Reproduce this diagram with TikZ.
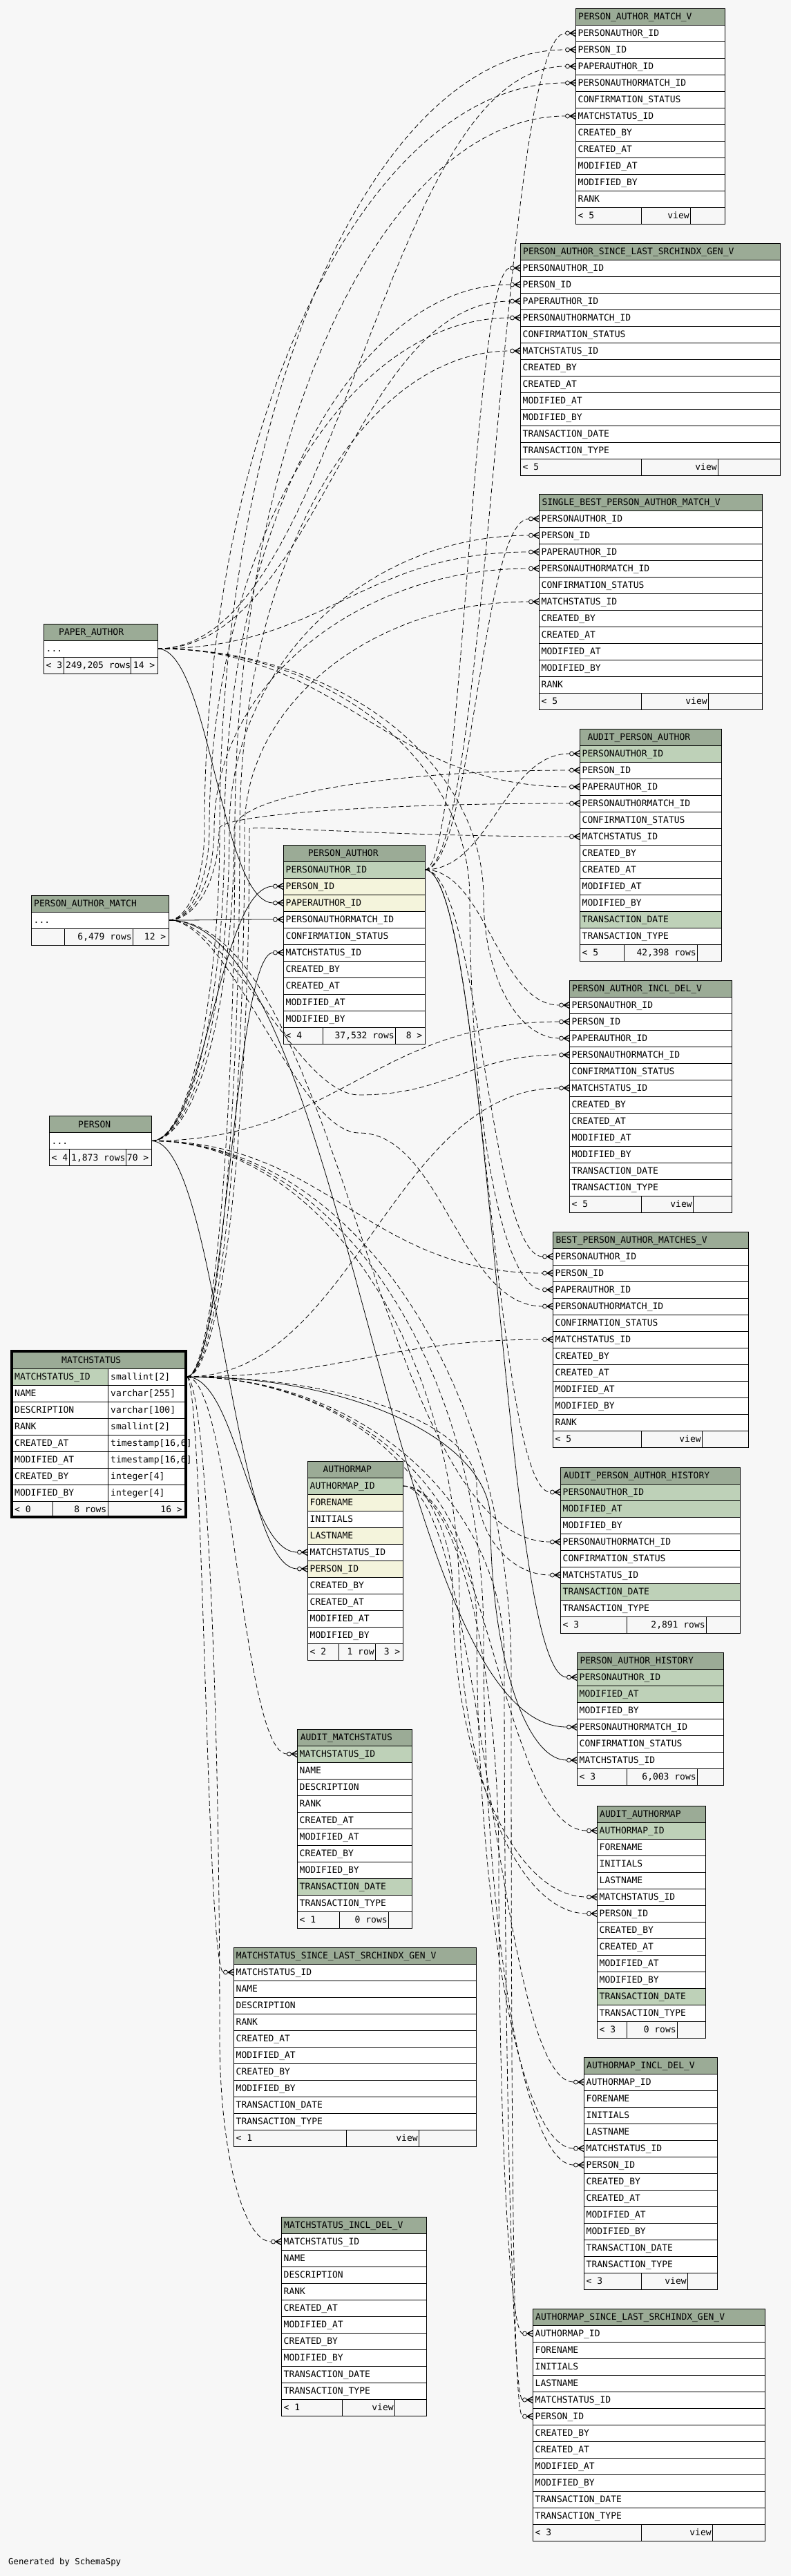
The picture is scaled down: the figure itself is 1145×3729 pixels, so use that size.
\documentclass[tikz,border=0pt]{standalone}
\usepackage{fontspec}
\setmonofont{DejaVu Sans Mono}
\usetikzlibrary{calc}
\definecolor{bgc}{HTML}{F7F7F7}
\definecolor{hdr}{HTML}{9BAB96}
\definecolor{cg}{HTML}{BED1B8}
\definecolor{cy}{HTML}{F4F4DC}
\definecolor{cw}{HTML}{FFFFFF}
\pgfdeclarelayer{back}
\pgfsetlayers{back,main}
\newdimen\fkxa \newdimen\fkxb \newdimen\fkya \newdimen\fkyb
\newcommand\ddd{...}
\newcommand\txtfont{\ttfamily\fontsize{13}{14}\selectfont}
\hbadness=10000 \hfuzz=1000pt
\tikzset{
  txt/.style={font=\txtfont, inner sep=0pt, text=black},
  cell/.style={draw=black, line width=0.9pt},
  edge/.style={draw=black, line width=0.8pt},
  dsh/.style={dash pattern=on 7pt off 4pt},
  crowline/.style={draw=black, line width=1.3pt}
}
\newcommand\tbl[7]{%
  \xdef\Tl{#2}\xdef\Tt{#3}\xdef\Tr{#4}%
  \filldraw[cell, fill=hdr] (#2,#3) rectangle (#4,#3+24);
  \node[txt, anchor=base west] at (#2+#6,#3+16.5) {#5};
  \foreach \rc/\rt [count=\i] in {#7} {
    \filldraw[cell, fill=\rc] (#2,#3+24*\i) rectangle (#4,#3+24*\i+24);
    \node[txt, anchor=base west] at (#2+3.5,#3+24*\i+16.5) {\rt};
    \coordinate (#1-\i) at (#2,#3+24*\i+12);
    \coordinate (#1-\i-r) at (#4,#3+24*\i+12);
    \xdef\nrows{\i}
  }
}
\newcommand\ftr[5]{%
  \pgfmathsetmacro\fy{\Tt+24*(\nrows+1)}%
  \pgfmathsetmacro\fw{#2-#1-4.5}%
  \draw[cell] (\Tl,\fy) rectangle (\Tr,\fy+24);
  \draw[cell] (#1,\fy) -- (#1,\fy+24) (#2,\fy) -- (#2,\fy+24);
  \begin{scope}
    \clip (\Tl,\fy) rectangle (#1,\fy+24);
    \node[txt, anchor=base west] at (\Tl+3.5,\fy+16.5) {#3};
  \end{scope}
  \begin{scope}
    \clip (#1,\fy) rectangle (#2,\fy+24);
    \node[txt, anchor=base west] at (#1+3,\fy+16.5) {\hbox to \fw pt{\hfill #4}};
  \end{scope}
  \node[txt, anchor=base east] at (\Tr-3.5,\fy+16.5) {#5};
}
\newcommand\crow[1]{%
  \draw[crowline] ($(#1)+(-8pt,0pt)$) -- ($(#1)+(0pt,4.5pt)$)
                  ($(#1)+(-8pt,0pt)$) -- ($(#1)+(0pt,-4.5pt)$)
                  ($(#1)+(-8.5pt,0pt)$) -- (#1);
  \draw[edge, fill=bgc] ($(#1)+(-11.5pt,0pt)$) circle (3pt);
}
\newcommand\fkget[2]{%
  \pgfextractx{\fkxa}{\pgfpointanchor{#1}{center}}%
  \pgfextracty{\fkya}{\pgfpointanchor{#1}{center}}%
  \pgfextractx{\fkxb}{\pgfpointanchor{#2}{center}}%
  \pgfextracty{\fkyb}{\pgfpointanchor{#2}{center}}%
  \pgfmathsetmacro\fkPy{\fkya}%
  \pgfmathsetmacro\fkCy{\fkyb}%
  \pgfmathsetmacro\fkCx{\fkxb-14.5}%
}
% direct S-curve
\newcommand\fk[3][]{%
  \fkget{#2}{#3}%
  \pgfmathsetmacro\fkd{max(25,0.45*(\fkCx-\fkxa))}%
  \pgfmathsetmacro\fkaX{\fkxa+\fkd}%
  \pgfmathsetmacro\fkdX{\fkCx-\fkd}%
  \begin{pgfonlayer}{back}
  \draw[edge,#1] (\fkxa,\fkya) .. controls (\fkaX pt,\fkPy pt) and (\fkdX pt,\fkCy pt) .. (\fkCx pt,\fkCy pt);
  \end{pgfonlayer}
  \crow{#3}%
}
% through a waypoint passed vertically
\newcommand\fkv[5][]{%
  \fkget{#2}{#3}%
  \pgfmathsetmacro\fkWx{#4}%
  \pgfmathsetmacro\fkWy{-(#5)}%
  \pgfmathsetmacro\fksd{(\fkCy<\fkPy) ? -1 : 1}%
  \pgfmathsetmacro\fkaX{\fkxa+max(15,0.55*(\fkWx-\fkxa))}%
  \pgfmathsetmacro\fkbY{\fkWy-\fksd*0.55*abs(\fkWy-\fkPy)}%
  \pgfmathsetmacro\fkcY{\fkWy+\fksd*0.55*abs(\fkCy-\fkWy)}%
  \pgfmathsetmacro\fkdX{\fkCx-max(15,0.55*(\fkCx-\fkWx))}%
  \begin{pgfonlayer}{back}
  \draw[edge,#1] (\fkxa,\fkya) .. controls (\fkaX pt,\fkPy pt) and (\fkWx pt,\fkbY pt) .. (\fkWx pt,\fkWy pt) .. controls (\fkWx pt,\fkcY pt) and (\fkdX pt,\fkCy pt) .. (\fkCx pt,\fkCy pt);
  \end{pgfonlayer}
  \crow{#3}%
}
% through a waypoint passed horizontally
\newcommand\fkh[6][]{%
  \fkget{#2}{#3}%
  \pgfmathsetmacro\fkWx{#4}%
  \pgfmathsetmacro\fkWy{-(#5)}%
  \pgfmathsetmacro\fkaX{\fkxa+#6}%
  \pgfmathsetmacro\fkbX{\fkWx-#6}%
  \pgfmathsetmacro\fkd{max(25,0.45*(\fkCx-\fkWx))}%
  \pgfmathsetmacro\fkcX{\fkWx+\fkd}%
  \pgfmathsetmacro\fkdX{\fkCx-\fkd}%
  \begin{pgfonlayer}{back}
  \draw[edge,#1] (\fkxa,\fkya) .. controls (\fkaX pt,\fkPy pt) and (\fkbX pt,\fkWy pt) .. (\fkWx pt,\fkWy pt) .. controls (\fkcX pt,\fkWy pt) and (\fkdX pt,\fkCy pt) .. (\fkCx pt,\fkCy pt);
  \end{pgfonlayer}
  \crow{#3}%
}
\begin{document}
\begin{tikzpicture}[x=1pt,y=-1pt]
\begin{pgfonlayer}{back}
\fill[bgc] (0,0) rectangle (1145,3729);
\end{pgfonlayer}
\useasboundingbox (0,0) rectangle (1145,3729);

% ---------------- parents on the left
\tbl{pa}{63}{903}{228}{PAPER\_AUTHOR}{22}{cw/\ddd}
\ftr{92}{189}{< 3}{249,205 rows}{14 >}
\tbl{pam}{45}{1296}{244}{PERSON\_AUTHOR\_MATCH}{4}{cw/\ddd}
\ftr{93}{192}{}{6,479 rows}{12 >}
\tbl{per}{71}{1615.5}{219}{PERSON}{42}{cw/\ddd}
\ftr{100}{182}{< 4}{1,873 rows}{70 >}

% MATCHSTATUS (selected table, two columns)
\filldraw[cell, fill=hdr] (17,1957) rectangle (269,1981);
\node[txt, anchor=base west] at (89,1973.5) {MATCHSTATUS};
\foreach \rc/\ra/\rb [count=\i] in {cg/MATCHSTATUS\_ID/smallint[2], cw/NAME/varchar[255], cw/DESCRIPTION/varchar[100], cw/RANK/smallint[2], cw/CREATED\_AT/{timestamp[16,6]}, cw/MODIFIED\_AT/{timestamp[16,6]}, cw/CREATED\_BY/integer[4], cw/MODIFIED\_BY/integer[4]} {
  \filldraw[cell, fill=\rc] (17,1957+24*\i) rectangle (156,1981+24*\i);
  \filldraw[cell, fill=cw] (156,1957+24*\i) rectangle (269,1981+24*\i);
  \node[txt, anchor=base west] at (21,1973.5+24*\i) {\ra};
  \node[txt, anchor=base west] at (160,1973.5+24*\i) {\rb};
  \coordinate (ms-\i-r) at (270,1969+24*\i);
}
\draw[cell] (17,2173) rectangle (269,2197);
\draw[cell] (76,2173) -- (76,2197) (156,2173) -- (156,2197);
\node[txt, anchor=base west] at (21,2189.5) {< 0};
\node[txt, anchor=base east] at (154.5,2189.5) {8 rows};
\node[txt, anchor=base east] at (264,2189.5) {16 >};
\draw[line width=3.5pt] (17,1955.5) rectangle (269,2196);

% ---------------- middle column
\tbl{pau}{410}{1223}{615}{PERSON\_AUTHOR}{35.7}{cg/PERSONAUTHOR\_ID, cy/PERSON\_ID, cy/PAPERAUTHOR\_ID, cw/PERSONAUTHORMATCH\_ID, cw/CONFIRMATION\_STATUS, cw/MATCHSTATUS\_ID, cw/CREATED\_BY, cw/CREATED\_AT, cw/MODIFIED\_AT, cw/MODIFIED\_BY}
\ftr{467}{572}{< 4}{37,532 rows}{8 >}

\tbl{am}{445}{2115}{583}{AUTHORMAP}{22.3}{cg/AUTHORMAP\_ID, cy/FORENAME, cw/INITIALS, cy/LASTNAME, cw/MATCHSTATUS\_ID, cy/PERSON\_ID, cw/CREATED\_BY, cw/CREATED\_AT, cw/MODIFIED\_AT, cw/MODIFIED\_BY}
\ftr{490}{543}{< 2}{1 row}{3 >}

\tbl{ams}{430}{2503}{596}{AUDIT\_MATCHSTATUS}{4.7}{cg/MATCHSTATUS\_ID, cw/NAME, cw/DESCRIPTION, cw/RANK, cw/CREATED\_AT, cw/MODIFIED\_AT, cw/CREATED\_BY, cw/MODIFIED\_BY, cg/TRANSACTION\_DATE, cw/TRANSACTION\_TYPE}
\ftr{491}{562}{< 1}{0 rows}{}

\tbl{mssl}{338}{2819}{689}{MATCHSTATUS\_SINCE\_LAST\_SRCHINDX\_GEN\_V}{3.7}{cw/MATCHSTATUS\_ID, cw/NAME, cw/DESCRIPTION, cw/RANK, cw/CREATED\_AT, cw/MODIFIED\_AT, cw/CREATED\_BY, cw/MODIFIED\_BY, cw/TRANSACTION\_DATE, cw/TRANSACTION\_TYPE}
\ftr{501}{606}{< 1}{view}{}

\tbl{msid}{407}{3209}{617}{MATCHSTATUS\_INCL\_DEL\_V}{4}{cw/MATCHSTATUS\_ID, cw/NAME, cw/DESCRIPTION, cw/RANK, cw/CREATED\_AT, cw/MODIFIED\_AT, cw/CREATED\_BY, cw/MODIFIED\_BY, cw/TRANSACTION\_DATE, cw/TRANSACTION\_TYPE}
\ftr{495}{571}{< 1}{view}{}

% ---------------- right column
\tbl{pamv}{833}{12}{1049}{PERSON\_AUTHOR\_MATCH\_V}{4}{cw/PERSONAUTHOR\_ID, cw/PERSON\_ID, cw/PAPERAUTHOR\_ID, cw/PERSONAUTHORMATCH\_ID, cw/CONFIRMATION\_STATUS, cw/MATCHSTATUS\_ID, cw/CREATED\_BY, cw/CREATED\_AT, cw/MODIFIED\_AT, cw/MODIFIED\_BY, cw/RANK}
\ftr{928}{999}{< 5}{view}{}

\tbl{pasl}{753}{352}{1129}{PERSON\_AUTHOR\_SINCE\_LAST\_SRCHINDX\_GEN\_V}{4}{cw/PERSONAUTHOR\_ID, cw/PERSON\_ID, cw/PAPERAUTHOR\_ID, cw/PERSONAUTHORMATCH\_ID, cw/CONFIRMATION\_STATUS, cw/MATCHSTATUS\_ID, cw/CREATED\_BY, cw/CREATED\_AT, cw/MODIFIED\_AT, cw/MODIFIED\_BY, cw/TRANSACTION\_DATE, cw/TRANSACTION\_TYPE}
\ftr{928}{1039}{< 5}{view}{}

\tbl{sbpam}{780}{715}{1103}{SINGLE\_BEST\_PERSON\_AUTHOR\_MATCH\_V}{4.3}{cw/PERSONAUTHOR\_ID, cw/PERSON\_ID, cw/PAPERAUTHOR\_ID, cw/PERSONAUTHORMATCH\_ID, cw/CONFIRMATION\_STATUS, cw/MATCHSTATUS\_ID, cw/CREATED\_BY, cw/CREATED\_AT, cw/MODIFIED\_AT, cw/MODIFIED\_BY, cw/RANK}
\ftr{928}{1025}{< 5}{view}{}

\tbl{apa}{839}{1055}{1044}{AUDIT\_PERSON\_AUTHOR}{11.3}{cg/PERSONAUTHOR\_ID, cw/PERSON\_ID, cw/PAPERAUTHOR\_ID, cw/PERSONAUTHORMATCH\_ID, cw/CONFIRMATION\_STATUS, cw/MATCHSTATUS\_ID, cw/CREATED\_BY, cw/CREATED\_AT, cw/MODIFIED\_AT, cw/MODIFIED\_BY, cg/TRANSACTION\_DATE, cw/TRANSACTION\_TYPE}
\ftr{903}{1009}{< 5}{42,398 rows}{}

\tbl{paid}{824}{1419}{1059}{PERSON\_AUTHOR\_INCL\_DEL\_V}{4}{cw/PERSONAUTHOR\_ID, cw/PERSON\_ID, cw/PAPERAUTHOR\_ID, cw/PERSONAUTHORMATCH\_ID, cw/CONFIRMATION\_STATUS, cw/MATCHSTATUS\_ID, cw/CREATED\_BY, cw/CREATED\_AT, cw/MODIFIED\_AT, cw/MODIFIED\_BY, cw/TRANSACTION\_DATE, cw/TRANSACTION\_TYPE}
\ftr{928}{1003}{< 5}{view}{}

\tbl{bpam}{800}{1783}{1083}{BEST\_PERSON\_AUTHOR\_MATCHES\_V}{4.3}{cw/PERSONAUTHOR\_ID, cw/PERSON\_ID, cw/PAPERAUTHOR\_ID, cw/PERSONAUTHORMATCH\_ID, cw/CONFIRMATION\_STATUS, cw/MATCHSTATUS\_ID, cw/CREATED\_BY, cw/CREATED\_AT, cw/MODIFIED\_AT, cw/MODIFIED\_BY, cw/RANK}
\ftr{928}{1016}{< 5}{view}{}

\tbl{apah}{811}{2124}{1071}{AUDIT\_PERSON\_AUTHOR\_HISTORY}{4.7}{cg/PERSONAUTHOR\_ID, cg/MODIFIED\_AT, cw/MODIFIED\_BY, cw/PERSONAUTHORMATCH\_ID, cw/CONFIRMATION\_STATUS, cw/MATCHSTATUS\_ID, cg/TRANSACTION\_DATE, cw/TRANSACTION\_TYPE}
\ftr{907}{1022}{< 3}{2,891 rows}{}

\tbl{pah}{835}{2392}{1047}{PERSON\_AUTHOR\_HISTORY}{4.3}{cg/PERSONAUTHOR\_ID, cg/MODIFIED\_AT, cw/MODIFIED\_BY, cw/PERSONAUTHORMATCH\_ID, cw/CONFIRMATION\_STATUS, cw/MATCHSTATUS\_ID}
\ftr{907}{1009}{< 3}{6,003 rows}{}

\tbl{aam}{864}{2614}{1021}{AUDIT\_AUTHORMAP}{4}{cg/AUTHORMAP\_ID, cw/FORENAME, cw/INITIALS, cw/LASTNAME, cw/MATCHSTATUS\_ID, cw/PERSON\_ID, cw/CREATED\_BY, cw/CREATED\_AT, cw/MODIFIED\_AT, cw/MODIFIED\_BY, cg/TRANSACTION\_DATE, cw/TRANSACTION\_TYPE}
\ftr{907}{980}{< 3}{0 rows}{}

\tbl{amid}{845}{2978}{1038}{AUTHORMAP\_INCL\_DEL\_V}{4}{cw/AUTHORMAP\_ID, cw/FORENAME, cw/INITIALS, cw/LASTNAME, cw/MATCHSTATUS\_ID, cw/PERSON\_ID, cw/CREATED\_BY, cw/CREATED\_AT, cw/MODIFIED\_AT, cw/MODIFIED\_BY, cw/TRANSACTION\_DATE, cw/TRANSACTION\_TYPE}
\ftr{928}{995}{< 3}{view}{}

\tbl{amsl}{771}{3342}{1107}{AUTHORMAP\_SINCE\_LAST\_SRCHINDX\_GEN\_V}{4}{cw/AUTHORMAP\_ID, cw/FORENAME, cw/INITIALS, cw/LASTNAME, cw/MATCHSTATUS\_ID, cw/PERSON\_ID, cw/CREATED\_BY, cw/CREATED\_AT, cw/MODIFIED\_AT, cw/MODIFIED\_BY, cw/TRANSACTION\_DATE, cw/TRANSACTION\_TYPE}
\ftr{928}{1031}{< 3}{view}{}

\node[txt, anchor=base west, font=\ttfamily\fontsize{12.3}{13}\selectfont] (gen) at (12,3712) {Generated by SchemaSpy};

% ---------------- relationships
% views above PERSON_AUTHOR: lines from the left go up a channel left of it
\foreach \v/\o in {pamv/0,pasl/7,sbpam/14,apa/21} {
  \fk[dsh]{pau-1-r}{\v-1}
  \fkv[dsh]{per-1-r}{\v-2}{318+\o}{1200}
  \fk[dsh]{pa-1-r}{\v-3}
  \fkv[dsh]{pam-1-r}{\v-4}{296+\o}{1200}
  \fkv[dsh]{ms-1-r}{\v-6}{340+\o}{1200}
}
% views to the right of and below PERSON_AUTHOR
\foreach \v/\o/\w in {paid/0/1585,bpam/20/1640} {
  \fk[dsh]{pau-1-r}{\v-1}
  \fk[dsh]{per-1-r}{\v-2}
  \fkv[dsh]{pa-1-r}{\v-3}{700-\o}{1300}
  \fkh[dsh]{pam-1-r}{\v-4}{520}{\w}{90}
  \fk[dsh]{ms-1-r}{\v-6}
}
\fk{per-1-r}{pau-2}
\fk{pa-1-r}{pau-3}
\fk{pam-1-r}{pau-4}
\fk{ms-1-r}{pau-6}
\fk[dsh]{pau-1-r}{apah-1}
\fk[dsh]{pam-1-r}{apah-4}
\fkv[dsh]{ms-1-r}{apah-6}{690}{2150}
\fk{pau-1-r}{pah-1}
\fk{pam-1-r}{pah-4}
\fkv{ms-1-r}{pah-6}{710}{2200}
\fk{ms-1-r}{am-5}
\fk{per-1-r}{am-6}
\fk[dsh]{ms-1-r}{ams-1}
\fk[dsh]{ms-1-r}{mssl-1}
\fkv[dsh]{ms-1-r}{msid-1}{318}{2950}
\fk[dsh]{am-1-r}{aam-1}
\fkv[dsh]{ms-1-r}{aam-5}{655}{2300}
\fkv[dsh]{per-1-r}{aam-6}{665}{2320}
\fk[dsh]{am-1-r}{amid-1}
\fkv[dsh]{ms-1-r}{amid-5}{690}{2350}
\fkv[dsh]{per-1-r}{amid-6}{700}{2370}
\fkv[dsh]{am-1-r}{amsl-1}{722}{2700}
\fkv[dsh]{ms-1-r}{amsl-5}{730}{2400}
\fkv[dsh]{per-1-r}{amsl-6}{740}{2420}
\end{tikzpicture}
\end{document}
